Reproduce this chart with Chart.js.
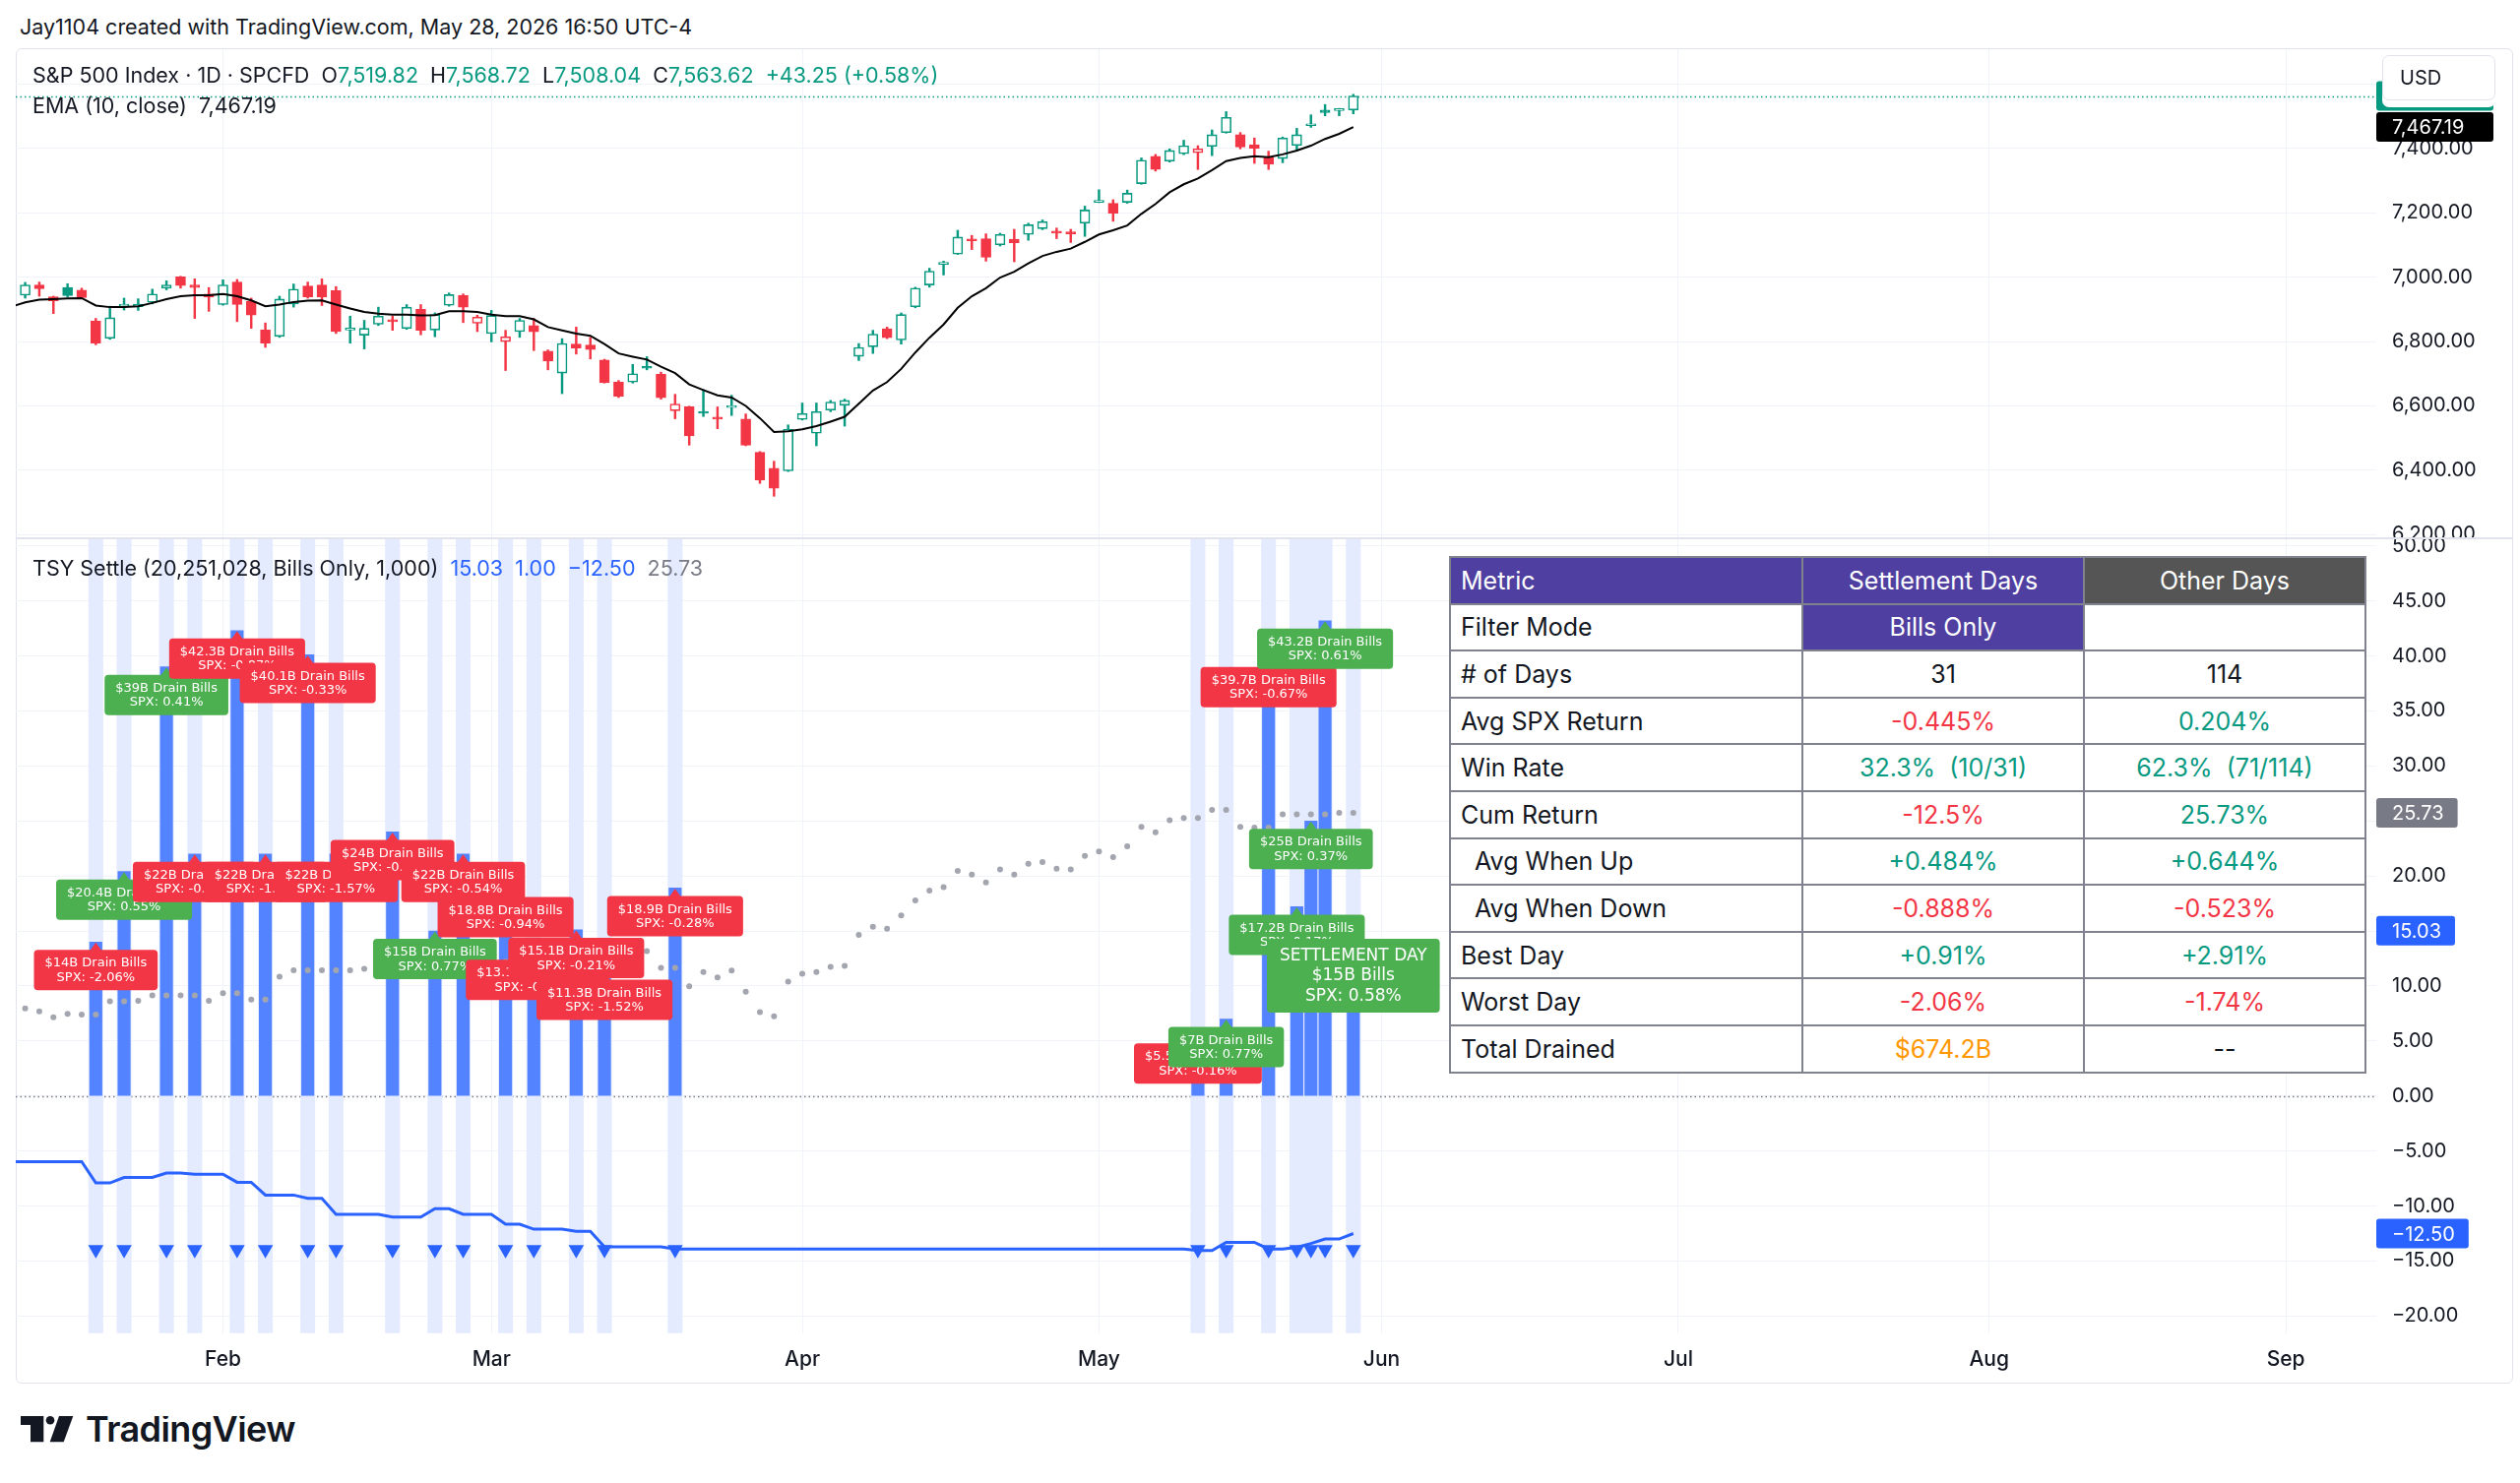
<!DOCTYPE html>
<html>
<head>
<meta charset="utf-8">
<title>S&amp;P 500 Index · TSY Settle</title>
<script src="https://cdn.jsdelivr.net/npm/chart.js@4.4.1/dist/chart.umd.min.js"></script>
<style>
  html, body { margin:0; padding:0; background:#ffffff; }
  body { width:2560px; height:1507px; position:relative; overflow:hidden;
         font-family: Inter, Roboto, "DejaVu Sans", sans-serif; color:#131722; }
  .t { position:absolute; white-space:pre; line-height:1; }
  #frame { position:absolute; left:16px; top:49px; width:2537px; height:1357px;
           border:1px solid #e0e3eb; border-radius:6px; box-sizing:border-box; }
  #sep { position:absolute; left:16px; top:546px; width:2537px; height:2px; background:#e0e3eb; }
  canvas { position:absolute; }
  #c1 { left:16px; top:50px; }
  #c2 { left:16px; top:548px; }
  #usd { position:absolute; left:2420px; top:56px; width:115px; height:46px; box-sizing:border-box;
         border:1px solid #e0e3eb; border-radius:7px; background:#fff; box-shadow:0 7px 0 0 #fff;
         font-size:20px; line-height:44px; padding-left:17px; color:#131722; }
  #stats { position:absolute; left:1472px; top:565px; width:930px; height:524px; border-collapse:collapse;
           table-layout:fixed; font-size:25px; background:#fff; }
  #stats tr { height:47.6px; }
  #stats td { border:2px solid #80838d; padding:0; white-space:pre; text-align:center; }
  #stats td.m { text-align:left; padding-left:10px; }
  #stats tr.h td { color:#fff; }
  #logo { position:absolute; left:21px; top:1439px; }
</style>
</head>
<body>
<div class="t" id="hdr" style="left:20px;top:17px;font-size:21.5px;color:#131722;">Jay1104 created with TradingView.com, May 28, 2026 16:50 UTC-4</div>
<div id="frame"></div>
<canvas id="c1" width="2537" height="496"></canvas>
<div id="sep"></div>
<canvas id="c2" width="2537" height="858"></canvas>
<div class="t" id="leg1" style="left:33px;top:66px;font-size:21.5px;"></div>
<div class="t" id="leg2" style="left:33px;top:97px;font-size:21.5px;"></div>
<div class="t" id="leg3" style="left:33px;top:567px;font-size:21.5px;"></div>
<div id="usd">USD</div>
<table id="stats"></table>
<svg id="logo" width="300" height="36" viewBox="0 0 300 36">
  <path d="M0 0 H23.3 V26.3 H10 V9 H0 Z" fill="#131722"/>
  <circle cx="30" cy="4.3" r="4.3" fill="#131722"/>
  <path d="M39 0 H53.3 L43.7 26.3 H29.7 Z" fill="#131722"/>
  <text x="66" y="26.3" font-family="Inter, Roboto, sans-serif" font-weight="600" font-size="36" letter-spacing="-0.6" fill="#131722">TradingView</text>
</svg>
<script>
// ---------------- DATA (bar index 0 = Jan 12 2026, one index per trading day) ----------------
const monthLabels   = ['Feb', 'Mar', 'Apr', 'May', 'Jun', 'Jul', 'Aug', 'Sep'];
const monthStartIdx = [14, 33, 55, 76, 96, 117, 139, 160];
const priceTicks = [6200, 6400, 6600, 6800, 7000, 7200, 7400, 7600];
const paneTicks  = [-20, -15, -10, -5, 0, 5, 10, 15, 20, 25, 30, 35, 40, 45, 50];

const candleOpen = [6944,6976,6939,6968,6960,6864,6810,6910,6908,6922,6966,7001,6976,6948,6915,6985,6925,6836,6816,6917,
  6973,6976,6958,6836,6820,6854,6866,6841,6900,6836,6913,6944,6857,6825,6800,6831,6850,6770,6702,6792,
  6789,6743,6674,6674,6723,6698,6585,6597,6582,6562,6595,6559,6456,6406,6398,6558,6515,6587,6602,6754,
  6784,6840,6805,6908,6976,7040,7072,7118,7120,7101,7118,7133,7151,7141,7138,7168,7233,7230,7233,7291,
  7376,7361,7384,7387,7407,7450,7443,7412,7373,7369,7410,7471,7520,7518,7519.82];
const candleHigh = [6984,6985,6941,6980,6966,6872,6910,6935,6933,6963,6989,7003,6995,6968,6992,6993,6935,6858,6941,6979,
  6985,6995,6971,6879,6866,6907,6879,6915,6915,6889,6951,6948,6882,6897,6835,6872,6872,6774,6809,6845,
  6813,6745,6679,6729,6753,6705,6636,6599,6651,6597,6633,6575,6458,6428,6541,6609,6609,6617,6621,6794,
  6835,6845,6889,6969,7028,7050,7146,7130,7135,7137,7149,7168,7178,7153,7149,7221,7272,7241,7271,7371,
  7382,7399,7426,7409,7458,7515,7450,7433,7392,7436,7463,7505,7537,7525,7568.72];
const candleLow = [6935,6941,6887,6939,6935,6790,6807,6898,6897,6917,6961,6966,6872,6894,6913,6862,6841,6782,6813,6907,
  6935,6912,6825,6795,6777,6850,6835,6838,6821,6815,6910,6859,6831,6799,6710,6813,6772,6712,6638,6761,
  6746,6671,6626,6671,6712,6621,6560,6478,6567,6529,6570,6476,6359,6319,6396,6556,6476,6582,6537,6741,
  6763,6809,6792,6905,6969,7007,7071,7086,7050,7097,7048,7115,7148,7120,7108,7127,7232,7174,7230,7289,
  7330,7358,7381,7335,7378,7448,7399,7354,7335,7356,7392,7466,7502,7502,7508.04];
const candleClose = [6976,6964,6927,6943,6937,6795,6874,6915,6916,6948,6976,6974,6968,6938,6976,6915,6882,6795,6932,6963,
  6939,6938,6831,6838,6841,6879,6862,6907,6835,6884,6946,6907,6876,6881,6815,6866,6830,6739,6794,6780,
  6775,6672,6630,6700,6717,6625,6606,6507,6577,6559,6600,6478,6369,6344,6528,6576,6582,6612,6617,6782,
  6823,6812,6884,6966,7019,7043,7125,7113,7062,7133,7107,7163,7173,7137,7135,7209,7236,7199,7261,7364,
  7335,7394,7409,7399,7443,7497,7405,7400,7351,7433,7443,7474,7512,7520.37,7563.62];

// EMA(10, close), starting one bar before index 0
const emaStartIdx = -1;
const emaValues = [6908,6922,6930,6932,6934,6935,6912,6907,6907,6910,6920,6932,6941,6944,6944,6948,6941,6928,6910,6915,
  6923,6927,6928,6915,6903,6892,6887,6884,6884,6881,6882,6894,6894,6892,6884,6879,6879,6869,6845,6835,
  6825,6818,6792,6763,6753,6744,6722,6702,6667,6649,6633,6626,6600,6562,6519,6521,6527,6537,6551,6566,
  6607,6648,6674,6715,6766,6812,6853,6905,6941,6966,6999,7017,7043,7066,7079,7089,7110,7133,7146,7161,
  7197,7228,7264,7289,7307,7333,7361,7371,7376,7373,7382,7394,7409,7430,7446,7467.19];

// TSY settlement days (bar index), bills drained ($B) and SPX change on that day (%)
const settleIdx    = [5, 7, 10, 12, 15, 17, 20, 22, 26, 29, 31, 34, 36, 39, 41, 46, 83, 85, 88, 90, 91, 92, 94];
const settleAmount = [14, 20.4, 39, 22, 42.3, 22, 40.1, 22, 24, 15, 22, 18.8, 13.1, 15.1, 11.3, 18.9, 5.5, 7, 39.7, 17.2, 25, 43.2, 15];
const settleSpx    = [-2.06, 0.55, 0.41, -0.11, -0.87, -1.26, -0.33, -1.57, -0.25, 0.77, -0.54, -0.94, -0.52, -0.21, -1.52, -0.28, -0.16, 0.77, -0.67, 0.17, 0.37, 0.61, 0.58];
const settleMarkerLevel = -13.95;

// Cumulative SPX return on settlement days (%), starting one bar before index 0
const cumSettleStartIdx = -1;
const cumSettle = [-5.96,-5.96,-5.96,-5.96,-5.96,-5.96,-7.9,-7.9,-7.4,-7.4,-7.4,-7.0,-7.0,-7.1,-7.1,-7.1,-7.84,-7.84,-9.0,-9.0,
  -9.0,-9.3,-9.3,-10.75,-10.75,-10.75,-10.75,-11.0,-11.0,-11.0,-10.24,-10.24,-10.75,-10.75,-10.75,-11.65,-11.65,-12.1,-12.1,-12.1,
  -12.3,-12.3,-13.7,-13.7,-13.7,-13.7,-13.7,-13.9,-13.9,-13.9,-13.9,-13.9,-13.9,-13.9,-13.9,-13.9,-13.9,-13.9,-13.9,-13.9,
  -13.9,-13.9,-13.9,-13.9,-13.9,-13.9,-13.9,-13.9,-13.9,-13.9,-13.9,-13.9,-13.9,-13.9,-13.9,-13.9,-13.9,-13.9,-13.9,-13.9,
  -13.9,-13.9,-13.9,-13.9,-14.04,-14.04,-13.3,-13.3,-13.3,-13.9,-13.9,-13.75,-13.4,-13.0,-13.0,-12.5];
// Cumulative SPX return on other days (%), index 0..94
const cumOther = [7.95,7.70,7.15,7.47,7.40,7.40,8.60,8.60,8.66,9.14,9.14,9.14,9.14,8.66,9.34,9.34,8.76,8.76,10.85,11.43,
  11.43,11.43,11.43,11.43,11.56,12.06,12.06,12.72,11.68,11.68,12.58,12.58,12.13,12.20,12.20,12.95,12.95,11.62,12.44,12.44,
  12.37,12.37,11.74,12.80,13.17,11.65,11.65,9.97,11.26,10.78,11.41,9.49,7.63,7.25,10.39,11.11,11.26,11.74,11.83,14.64,
  15.39,15.21,16.41,17.78,18.68,18.98,20.45,20.12,19.40,20.60,20.12,21.11,21.26,20.66,20.60,21.83,22.22,21.71,22.69,24.46,
  23.98,25.06,25.27,25.27,26.0,26.0,24.46,24.4,24.4,25.6,25.6,25.6,25.6,25.73,25.73];

const legendChange = '+43.25 (+0.58%)';
const tsyLegendTitle = 'TSY Settle (20,251,028, Bills Only, 1,000)';
const tsyLegendValues = [15.03, 1.00, -12.50, 25.73];

const tableHeader = ['Metric', 'Settlement Days', 'Other Days'];
const tableRows = [
  ['Filter Mode', 'Bills Only', ''],
  ['# of Days', '31', '114'],
  ['Avg SPX Return', '-0.445%', '0.204%'],
  ['Win Rate', '32.3%  (10/31)', '62.3%  (71/114)'],
  ['Cum Return', '-12.5%', '25.73%'],
  ['  Avg When Up', '+0.484%', '+0.644%'],
  ['  Avg When Down', '-0.888%', '-0.523%'],
  ['Best Day', '+0.91%', '+2.91%'],
  ['Worst Day', '-2.06%', '-1.74%'],
  ['Total Drained', '$674.2B', '--'],
];

// ---------------- STYLE ----------------
const UP = '#089981', DOWN = '#f23645', BLUE = '#2962ff', GRID = '#f0f3fa', TXT = '#131722';
const PURPLE = '#4f3fa0', DARKGRAY = '#555555';
const FONT = 'Inter, Roboto, sans-serif';
const X_MIN = -0.667, X_MAX = 166.4;

const fmt2 = v => v.toLocaleString('en-US', {minimumFractionDigits: 2, maximumFractionDigits: 2}).replace('-', '\u2212');

// ---------------- LEGENDS ----------------
const nLast = candleClose.length - 1;
const g = s => `<span style="color:${UP}">${s}</span>`;
document.getElementById('leg1').innerHTML =
  `S&amp;P 500 Index · 1D · SPCFD  O${g(fmt2(candleOpen[nLast]))}  H${g(fmt2(candleHigh[nLast]))}  L${g(fmt2(candleLow[nLast]))}  C${g(fmt2(candleClose[nLast]))}  ${g(legendChange)}`;
document.getElementById('leg2').innerHTML = `EMA (10, close)  ${fmt2(emaValues[emaValues.length - 1])}`;
const tsyColors = [BLUE, BLUE, BLUE, '#787b86'];
document.getElementById('leg3').innerHTML = tsyLegendTitle + '  ' +
  tsyLegendValues.map((v, i) => `<span style="color:${tsyColors[i]}">${fmt2(v)}</span>`).join('  ');

// ---------------- TABLE ----------------
(function buildTable() {
  const tbl = document.getElementById('stats');
  const cg = document.createElement('colgroup');
  [358, 286, 286].forEach(w => { const c = document.createElement('col'); c.style.width = w + 'px'; cg.appendChild(c); });
  tbl.appendChild(cg);
  const hr = document.createElement('tr'); hr.className = 'h';
  tableHeader.forEach((t, i) => {
    const td = document.createElement('td'); td.textContent = t;
    if (i === 0) td.className = 'm';
    td.style.background = i === 2 ? DARKGRAY : PURPLE;
    hr.appendChild(td);
  });
  tbl.appendChild(hr);
  const colorFor = (s) => {
    if (s.startsWith('$')) return '#ff9800';
    if (!s.includes('%')) return TXT;
    return s.startsWith('-') ? DOWN : UP;
  };
  tableRows.forEach((row, r) => {
    const tr = document.createElement('tr');
    row.forEach((t, i) => {
      const td = document.createElement('td'); td.textContent = t;
      if (i === 0) { td.className = 'm'; td.style.color = TXT; }
      else td.style.color = colorFor(t);
      if (r === 0 && i === 1) { td.style.background = PURPLE; td.style.color = '#fff'; }
      tr.appendChild(td);
    });
    tbl.appendChild(tr);
  });
})();

// ---------------- CHART HELPERS ----------------
Chart.defaults.font.family = FONT;
Chart.defaults.color = TXT;

function monthTicks(scale) { scale.ticks = monthStartIdx.map(v => ({value: v})); }
function noPad(s) { s.paddingTop = 0; s.paddingBottom = 0; s.paddingLeft = 0; s.paddingRight = 0; }
const fitY = s => { s.width = 139; noPad(s); };
const fitX1 = s => { s.height = 0; noPad(s); };
const fitX2 = s => { s.height = 51.3; noPad(s); };

function axisBox(chart, value, bg, text, minW) {
  const {ctx, chartArea: a, scales: {y}} = chart;
  const yy = y.getPixelForValue(value);
  ctx.save();
  ctx.font = `20px ${FONT}`;
  const w = Math.max(minW || 0, ctx.measureText(text).width + 30);
  ctx.fillStyle = bg;
  ctx.beginPath(); ctx.roundRect(a.right, yy - 15, w, 30, 3); ctx.fill();
  ctx.fillStyle = '#ffffff'; ctx.textBaseline = 'middle'; ctx.textAlign = 'left';
  ctx.fillText(text, a.right + 16, yy + 1);
  ctx.restore();
}

function hLineDotted(chart, value, color) {
  const {ctx, chartArea: a, scales: {y}} = chart;
  const yy = Math.round(y.getPixelForValue(value)) + 0.5;
  ctx.save();
  ctx.strokeStyle = color; ctx.lineWidth = 1.3; ctx.setLineDash([1.5, 3]);
  ctx.beginPath(); ctx.moveTo(a.left, yy); ctx.lineTo(a.right, yy); ctx.stroke();
  ctx.restore();
}

const baseX = (fit, showTicks) => ({
  type: 'linear', min: X_MIN, max: X_MAX, offset: false, afterBuildTicks: monthTicks, afterFit: fit,
  ticks: showTicks
    ? {padding: 14, font: {size: 21, weight: '500'}, color: TXT, maxRotation: 0, autoSkip: false,
       callback: v => monthLabels[monthStartIdx.indexOf(v)] || ''}
    : {display: false},
  grid: {color: GRID, drawTicks: false, offset: false}, border: {display: false}
});

// ---------------- PRICE PANE ----------------
const barIdx = candleOpen.map((_, i) => i);
const candleColor = candleClose.map((c, i) => (i === 0 ? c >= candleOpen[0] : c >= candleClose[i - 1]) ? UP : DOWN);
const candleHollow = candleClose.map((c, i) => c > candleOpen[i]);

const pricePlugin = {
  id: 'priceDecor',
  beforeDatasetsDraw(chart) { hLineDotted(chart, candleClose[nLast], UP); },
  afterDraw(chart) {
    axisBox(chart, candleClose[nLast], UP, fmt2(candleClose[nLast]), 119);
    axisBox(chart, emaValues[emaValues.length - 1], '#000000', fmt2(emaValues[emaValues.length - 1]), 119);
  }
};

new Chart(document.getElementById('c1'), {
  type: 'bar',
  data: {
    datasets: [
      { type: 'line', data: emaValues.map((v, k) => ({x: emaStartIdx + k, y: v})),
        borderColor: '#000000', borderWidth: 2, pointRadius: 0, tension: 0, order: 0 },
      { type: 'bar', data: barIdx.map(i => ({x: i, y: [Math.min(candleOpen[i], candleClose[i]), Math.max(candleOpen[i], candleClose[i])]})),
        backgroundColor: candleHollow.map((h, i) => h ? '#ffffff' : candleColor[i]),
        borderColor: candleColor, borderWidth: 1.6, borderSkipped: false, barThickness: 10,
        minBarLength: 2, grouped: false, order: 1 },
      { type: 'bar', data: barIdx.map(i => ({x: i, y: [candleLow[i], candleHigh[i]]})),
        backgroundColor: candleColor, barThickness: 1.8, grouped: false, order: 2 }
    ]
  },
  options: {
    responsive: false, animation: false, events: [],
    layout: {padding: 0, autoPadding: false},
    plugins: {legend: {display: false}, tooltip: {enabled: false}},
    scales: {
      x: baseX(fitX1, false),
      y: { position: 'right', min: 6191.4, max: 7709,
           afterBuildTicks: s => { s.ticks = priceTicks.map(v => ({value: v})); },
           afterFit: fitY,
           ticks: {padding: 16, font: {size: 20}, color: TXT, autoSkip: false, callback: v => fmt2(v)},
           grid: {color: GRID, drawTicks: false}, border: {display: false} }
    }
  },
  plugins: [pricePlugin]
});

// ---------------- TSY SETTLE PANE ----------------
const labelPlugin = {
  id: 'settleLabels',
  beforeDatasetsDraw(chart) { hLineDotted(chart, 0, '#787b86'); },
  afterDatasetsDraw(chart) {
    const {ctx, scales: {x, y}} = chart;
    ctx.save();
    settleIdx.forEach((idx, k) => {
      const isLast = k === settleIdx.length - 1;
      const amt = settleAmount[k], spx = settleSpx[k];
      const px = x.getPixelForValue(idx), top = y.getPixelForValue(amt);
      const lines = isLast
        ? ['SETTLEMENT DAY', `$${amt}B Bills`, `SPX: ${spx.toFixed(2)}%`]
        : [`$${amt}B Drain Bills`, `SPX: ${spx.toFixed(2)}%`];
      const fontSize = isLast ? 17 : 13;
      const lineH = isLast ? 20.5 : 14.5;
      const padX = isLast ? 13 : 11;
      const h = isLast ? 75 : 41;
      ctx.font = `${fontSize}px "DejaVu Sans", sans-serif`;
      const w = Math.max(...lines.map(l => ctx.measureText(l).width)) + 2 * padX;
      const boxTop = top + 8;
      ctx.fillStyle = spx >= 0 ? '#4caf50' : DOWN;
      ctx.beginPath();
      ctx.moveTo(px, top + 0.5); ctx.lineTo(px - 6, boxTop + 1); ctx.lineTo(px + 6, boxTop + 1); ctx.closePath();
      ctx.fill();
      ctx.beginPath(); ctx.roundRect(px - w / 2, boxTop, w, h, 4); ctx.fill();
      ctx.fillStyle = '#ffffff'; ctx.textAlign = 'center'; ctx.textBaseline = 'middle';
      const mid = boxTop + h / 2;
      lines.forEach((l, j) => ctx.fillText(l, px, mid + (j - (lines.length - 1) / 2) * lineH + 0.5));
    });
    ctx.restore();
  },
  afterDraw(chart) {
    axisBox(chart, tsyLegendValues[3], '#787b86', fmt2(tsyLegendValues[3]));
    axisBox(chart, tsyLegendValues[0], BLUE, fmt2(tsyLegendValues[0]));
    axisBox(chart, tsyLegendValues[2], BLUE, fmt2(tsyLegendValues[2]));
  }
};

new Chart(document.getElementById('c2'), {
  type: 'bar',
  data: {
    datasets: [
      { type: 'line', data: settleIdx.map(i => ({x: i, y: settleMarkerLevel})), showLine: false,
        pointStyle: 'triangle', rotation: 180, pointRadius: 9, pointBackgroundColor: BLUE, pointBorderWidth: 0, order: 0 },
      { type: 'line', data: cumSettle.map((v, k) => ({x: cumSettleStartIdx + k, y: v})),
        borderColor: BLUE, borderWidth: 3, pointRadius: 0, tension: 0, order: 1 },
      { type: 'line', data: cumOther.map((v, i) => ({x: i, y: v})), showLine: false,
        pointRadius: 3, pointBackgroundColor: '#a3a6af', pointBorderWidth: 0, order: 2 },
      { type: 'bar', data: settleIdx.map((i, k) => ({x: i, y: settleAmount[k]})),
        backgroundColor: '#5483ff', barThickness: 12.5, grouped: false, order: 3 },
      { type: 'bar', yAxisID: 'yBg', data: settleIdx.map(i => ({x: i, y: [0, 1]})),
        backgroundColor: '#e4ebff', barThickness: 14.4, grouped: false, order: 4 }
    ]
  },
  options: {
    responsive: false, animation: false, events: [],
    layout: {padding: 0, autoPadding: false},
    plugins: {legend: {display: false}, tooltip: {enabled: false}},
    scales: {
      x: baseX(fitX2, true),
      y: { position: 'right', min: -21.55, max: 50.6,
           afterBuildTicks: s => { s.ticks = paneTicks.map(v => ({value: v})); },
           afterFit: fitY,
           ticks: {padding: 16, font: {size: 20}, color: TXT, autoSkip: false, callback: v => fmt2(v)},
           grid: {color: GRID, drawTicks: false}, border: {display: false} },
      yBg: { display: false, min: 0, max: 1 }
    }
  },
  plugins: [labelPlugin]
});
</script>
</body>
</html>
